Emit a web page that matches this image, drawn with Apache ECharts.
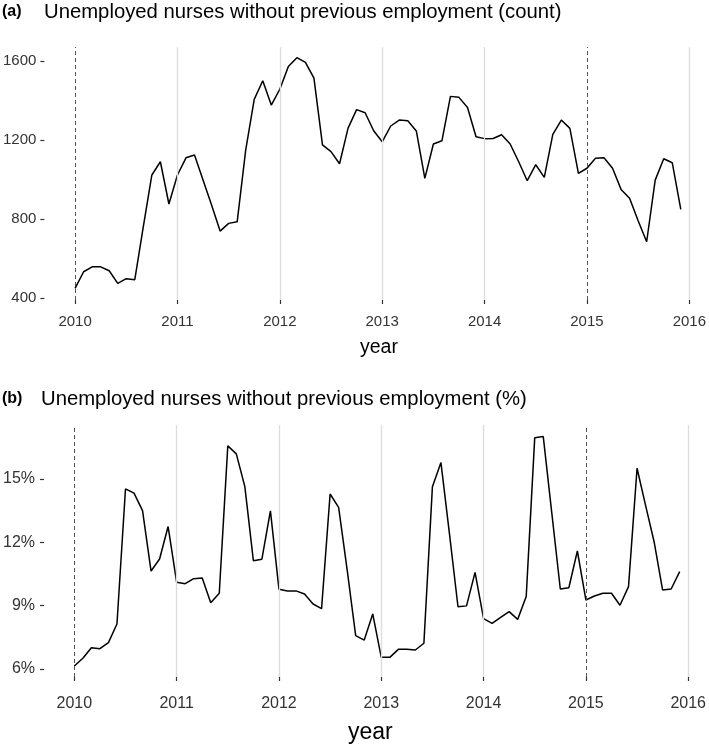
<!DOCTYPE html>
<html>
<head>
<meta charset="utf-8">
<script src="https://cdn.jsdelivr.net/npm/echarts@6/dist/echarts.min.js"></script>
<style>
html,body{margin:0;padding:0;background:#fff;}
#chart{width:709px;height:744px;}
</style>
</head>
<body>
<div id="chart"></div>
<script>
// ---- data ----
const years = [2010, 2011, 2012, 2013, 2014, 2015];
const countValues = [
  449, 533, 558, 558, 538, 474, 498, 493, 761, 1023, 1090, 876,
  1023, 1110, 1124, 997, 871, 739, 778, 786, 1149, 1406, 1500, 1377,
  1457, 1572, 1617, 1593, 1513, 1175, 1141, 1080, 1260, 1354, 1338, 1247,
  1191, 1271, 1301, 1298, 1246, 1006, 1180, 1196, 1421, 1416, 1365, 1217,
  1207, 1208, 1227, 1180, 1090, 994, 1075, 1011, 1229, 1301, 1259, 1031,
  1057, 1108, 1110, 1057, 950, 905, 791, 685, 997, 1105, 1085, 849
];
const pctValues = [
  6.14, 6.51, 7.01, 6.96, 7.25, 8.13, 14.53, 14.33, 13.50, 10.64, 11.21, 12.75,
  10.11, 10.04, 10.28, 10.31, 9.14, 9.59, 16.57, 16.19, 14.64, 11.13, 11.20, 13.49,
  9.78, 9.70, 9.70, 9.55, 9.08, 8.86, 14.29, 13.66, 10.7, 7.58, 7.37, 8.61,
  6.55, 6.55, 6.93, 6.93, 6.90, 7.22, 14.64, 15.78, 12.4, 8.95, 8.99, 10.58,
  8.39, 8.16, 8.45, 8.72, 8.35, 9.43, 16.96, 17.01, 13.4, 9.79, 9.85, 11.59,
  9.27, 9.46, 9.59, 9.59, 9.02, 9.90, 15.51, 13.75, 12.03, 9.74, 9.79, 10.61
];
const xTicks = [2010, 2011, 2012, 2013, 2014, 2015, 2016];
const countTicks = [400, 800, 1200, 1600];
const pctTicks = [6, 9, 12, 15];
const solidYearLines = [2011, 2012, 2013, 2014, 2016];
const dashedYearLines = [2010, 2015];
const titleA = 'Unemployed nurses without previous employment (count)';
const titleB = 'Unemployed nurses without previous employment (%)';
const xTitle = 'year';

// ---- build ----
const times = [];
years.forEach(y => { for (let m = 0; m < 12; m++) times.push(y + m / 12); });
const countData = countValues.map((v, i) => [times[i], v]);
const pctData = pctValues.map((v, i) => [times[i], v]);

const FONT = '"Liberation Sans", Arial, Helvetica, sans-serif';
const gridColor = '#dcdcdc';
const textColor = '#333333';

function markLines() {
  const d = [];
  solidYearLines.forEach(x => d.push({ xAxis: x, lineStyle: { color: gridColor, width: 1.3, type: 'solid' } }));
  dashedYearLines.forEach(x => d.push({ xAxis: x, lineStyle: { color: '#555555', width: 1, type: [4, 3] } }));
  return { silent: true, symbol: ['none', 'none'], label: { show: false }, animation: false, data: d };
}

function xAxisCfg(gi, fs, margin) {
  return {
    type: 'value', gridIndex: gi, min: 2010, max: 2016, interval: 1,
    axisLine: { show: false },
    axisTick: { show: true, length: 4, lineStyle: { color: textColor, width: 1.2 } },
    axisLabel: { color: textColor, fontSize: fs, fontFamily: FONT, margin: margin,
      customValues: xTicks, formatter: v => String(v) },
    splitLine: { show: false }
  };
}

const option = {
  animation: false,
  backgroundColor: '#ffffff',
  grid: [
    { left: 74, right: 17.7, top: 47, height: 253 },
    { left: 71.3, right: 17.7, top: 425, height: 252 }
  ],
  xAxis: [ xAxisCfg(0, 15, 14), xAxisCfg(1, 16, 19) ],
  yAxis: [
    { type: 'value', gridIndex: 0, min: 390, max: 1671, offset: 30.7,
      axisLine: { show: false },
      axisTick: { show: true, length: 4, customValues: countTicks, lineStyle: { color: textColor, width: 1.2 } },
      axisLabel: { color: textColor, fontSize: 15, fontFamily: FONT, margin: 8, customValues: countTicks,
        formatter: v => String(v) },
      splitLine: { show: false } },
    { type: 'value', gridIndex: 1, min: 5.62, max: 17.56, offset: 30.3,
      axisLine: { show: false },
      axisTick: { show: true, length: 4, customValues: pctTicks, lineStyle: { color: textColor, width: 1.2 } },
      axisLabel: { color: textColor, fontSize: 16, fontFamily: FONT, margin: 9, customValues: pctTicks,
        formatter: v => v + '%' },
      splitLine: { show: false } }
  ],
  series: [
    { type: 'line', xAxisIndex: 0, yAxisIndex: 0, data: countData, showSymbol: false, clip: false,
      lineStyle: { color: '#000000', width: 1.5 }, markLine: markLines(), z: 3 },
    { type: 'line', xAxisIndex: 1, yAxisIndex: 1, data: pctData, showSymbol: false, clip: false,
      lineStyle: { color: '#000000', width: 1.5 }, markLine: markLines(), z: 3 }
  ],
  graphic: [
    { type: 'text', left: 2, top: 4, style: { text: '(a)', font: 'bold 16px ' + FONT, fill: '#000' } },
    { type: 'text', left: 44, top: 2, style: { text: titleA, font: '20.3px ' + FONT, fill: '#000' } },
    { type: 'text', left: 2, top: 391, style: { text: '(b)', font: 'bold 16px ' + FONT, fill: '#000' } },
    { type: 'text', left: 41, top: 389, style: { text: titleB, font: '20.3px ' + FONT, fill: '#000' } },
    { type: 'text', left: 360, top: 338, style: { text: xTitle, font: '19.5px ' + FONT, fill: '#000' } },
    { type: 'text', left: 348, top: 721, style: { text: xTitle, font: '23px ' + FONT, fill: '#000' } }
  ]
};

const chart = echarts.init(document.getElementById('chart'), null, { renderer: 'canvas' });
chart.setOption(option);
</script>
</body>
</html>
